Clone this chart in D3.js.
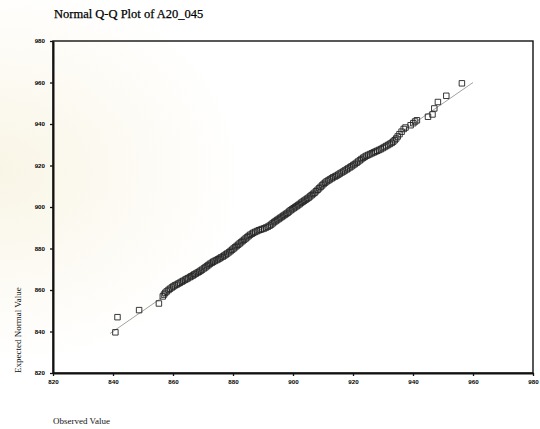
<!DOCTYPE html>
<html>
<head>
<meta charset="utf-8">
<script src="https://cdn.jsdelivr.net/npm/d3@7/dist/d3.min.js"></script>
<style>
html,body{margin:0;padding:0;background:#fff;}
svg{display:block;}
</style>
</head>
<body>
<svg id="chart" width="540" height="429"></svg>
<script>
const titleText = "Normal Q-Q Plot of A20_045";
const xLabel = "Observed Value";
const yLabel = "Expected Normal Value";
const tickValues = [820, 840, 860, 880, 900, 920, 940, 960, 980];
const refLine = [839, 960];

const observed = [
840.8, 841.5, 848.7, 855.3,
856.6, 857.0, 857.4, 857.9, 858.5, 859.0, 859.6, 860.1, 860.6, 861.2,
861.8, 862.3, 862.9, 863.4, 864.0, 864.5, 865.0, 865.6, 866.1, 866.6,
867.1, 867.6, 868.2, 868.7, 869.2, 869.7, 870.3, 870.8, 871.3, 871.8,
872.3, 872.9, 873.4, 873.9, 874.5, 875.0, 875.5, 876.0, 876.6, 877.1,
877.6, 878.1, 878.7, 879.2, 879.7, 880.2, 880.7, 881.2, 881.7, 882.2,
882.7, 883.2, 883.7, 884.2, 884.7, 885.2, 885.7, 886.3, 886.8, 887.4,
888.0, 888.6, 889.2, 889.8, 890.4, 891.0, 891.6, 892.2, 892.7, 893.2,
893.7, 894.2, 894.7, 895.2, 895.7, 896.2, 896.7, 897.2, 897.7, 898.2,
898.7, 899.2, 899.7, 900.2, 900.7, 901.2, 901.7, 902.2, 902.7, 903.2,
903.7, 904.2, 904.7, 905.2, 905.7, 906.2, 906.7, 907.2, 907.7, 908.2,
908.7, 909.2, 909.7, 910.2, 910.7, 911.2, 911.8, 912.3, 912.9, 913.4,
914.0, 914.5, 915.1, 915.6, 916.2, 916.8, 917.3, 917.9, 918.4, 919.0,
919.5, 920.1, 920.6, 921.2, 921.7, 922.3, 922.8, 923.4, 923.9, 924.5,
925.1, 925.7, 926.3, 926.9, 927.5, 928.1, 928.7, 929.3, 929.9, 930.5,
931.1, 931.7, 932.3, 932.9, 933.4, 933.9, 934.4, 934.9, 935.5, 936.2,
936.9, 937.5, 939.2, 940.1, 940.7, 941.3,
945.0, 946.5, 947.1, 948.3, 951.1, 956.3
];
const expected = [
839.6, 846.9, 850.3, 853.5,
856.9, 857.8, 858.6, 859.3, 860.0, 860.6, 861.2, 861.7, 862.2, 862.6,
863.1, 863.5, 864.0, 864.4, 864.9, 865.3, 865.7, 866.2, 866.6, 867.0,
867.5, 867.9, 868.4, 868.8, 869.3, 869.8, 870.4, 870.9, 871.5, 872.0,
872.6, 873.1, 873.6, 874.0, 874.4, 874.8, 875.2, 875.7, 876.1, 876.6,
877.1, 877.6, 878.2, 878.8, 879.4, 880.0, 880.6, 881.2, 881.8, 882.4,
883.0, 883.6, 884.2, 884.8, 885.4, 886.0, 886.6, 887.1, 887.6, 888.0,
888.4, 888.8, 889.1, 889.4, 889.7, 890.1, 890.5, 891.0, 891.5, 892.1,
892.7, 893.2, 893.7, 894.2, 894.7, 895.2, 895.7, 896.2, 896.7, 897.2,
897.8, 898.4, 898.9, 899.4, 899.9, 900.4, 900.9, 901.4, 902.0, 902.5,
903.0, 903.5, 904.0, 904.5, 905.1, 905.7, 906.3, 906.9, 907.6, 908.3,
909.0, 909.7, 910.4, 911.1, 911.7, 912.3, 912.8, 913.3, 913.8, 914.3,
914.7, 915.1, 915.6, 916.1, 916.6, 917.1, 917.6, 918.1, 918.6, 919.1,
919.6, 920.2, 920.7, 921.3, 921.9, 922.5, 923.1, 923.7, 924.2, 924.7,
925.1, 925.5, 925.9, 926.3, 926.7, 927.1, 927.5, 927.9, 928.4, 928.9,
929.4, 929.9, 930.4, 930.9, 931.5, 932.2, 933.0, 934.0, 935.1, 936.3,
937.6, 938.3, 939.4, 940.4, 941.2, 941.8,
943.5, 944.6, 947.5, 950.6, 953.6, 959.6
];

const svg = d3.select("#chart");

// faint watermark-like background
const defs = svg.append("defs");
const grad = defs.append("radialGradient").attr("id", "wm")
  .attr("cx", "0%").attr("cy", "40%").attr("r", "45%");
grad.append("stop").attr("offset", "0%").attr("stop-color", "#f9f5e6");
grad.append("stop").attr("offset", "60%").attr("stop-color", "#fdfbf5");
grad.append("stop").attr("offset", "100%").attr("stop-color", "#ffffff");
svg.append("rect").attr("width", 540).attr("height", 429).attr("fill", "url(#wm)");

const x = d3.scaleLinear().domain([820, 980]).range([53, 533]);
const y = d3.scaleLinear().domain([820, 980]).range([373, 41]);

// title
svg.append("text")
  .attr("x", 54).attr("y", 18)
  .attr("font-family", "'Liberation Serif', 'Times New Roman', serif")
  .attr("font-size", 12.5).attr("fill", "#000")
  .attr("stroke", "#000").attr("stroke-width", 0.25)
  .text(titleText);

// frame (top and right)
svg.append("rect")
  .attr("x", x(820)).attr("y", y(980))
  .attr("width", x(980) - x(820)).attr("height", y(820) - y(980))
  .attr("fill", "none").attr("stroke", "#111").attr("stroke-width", 1.4);

// axes
const fmt = d => String(d);
const xAxis = svg.append("g").attr("transform", `translate(0,${y(820)})`)
  .call(d3.axisBottom(x).tickValues(tickValues).tickFormat(fmt).tickSizeInner(3).tickSizeOuter(0).tickPadding(4));
const yAxis = svg.append("g").attr("transform", `translate(${x(820)},0)`)
  .call(d3.axisLeft(y).tickValues(tickValues).tickFormat(fmt).tickSizeInner(3).tickSizeOuter(0).tickPadding(5));

[xAxis, yAxis].forEach(g => {
  g.select(".domain").attr("stroke", "#111").attr("stroke-width", 2);
  g.selectAll(".tick line").attr("stroke", "#111").attr("stroke-width", 1.3);
  g.selectAll(".tick text")
    .attr("font-family", "'Liberation Sans', Arial, sans-serif")
    .attr("font-size", 6.2).attr("font-weight", "bold").attr("fill", "#000");
});

// reference line
svg.append("line")
  .attr("x1", x(refLine[0])).attr("y1", y(refLine[0]))
  .attr("x2", x(refLine[1])).attr("y2", y(refLine[1]))
  .attr("stroke", "#8a8a8a").attr("stroke-width", 0.8);

// points
const pts = observed.map((o, i) => ({o, e: expected[i]}));
svg.append("g").selectAll("path").data(pts).enter().append("path")
  .attr("d", d3.symbol(d3.symbolSquare, 30))
  .attr("transform", d => `translate(${x(d.o)},${y(d.e)})`)
  .attr("fill", "none").attr("stroke", "#222").attr("stroke-width", 0.9);

// axis labels
svg.append("text")
  .attr("x", 53).attr("y", 424)
  .attr("font-family", "'Liberation Serif', 'Times New Roman', serif")
  .attr("font-size", 9).attr("fill", "#111")
  .text(xLabel);

svg.append("text")
  .attr("transform", "translate(21,373) rotate(-90)")
  .attr("font-family", "'Liberation Serif', 'Times New Roman', serif")
  .attr("font-size", 9).attr("fill", "#111")
  .text(yLabel);
</script>
</body>
</html>
